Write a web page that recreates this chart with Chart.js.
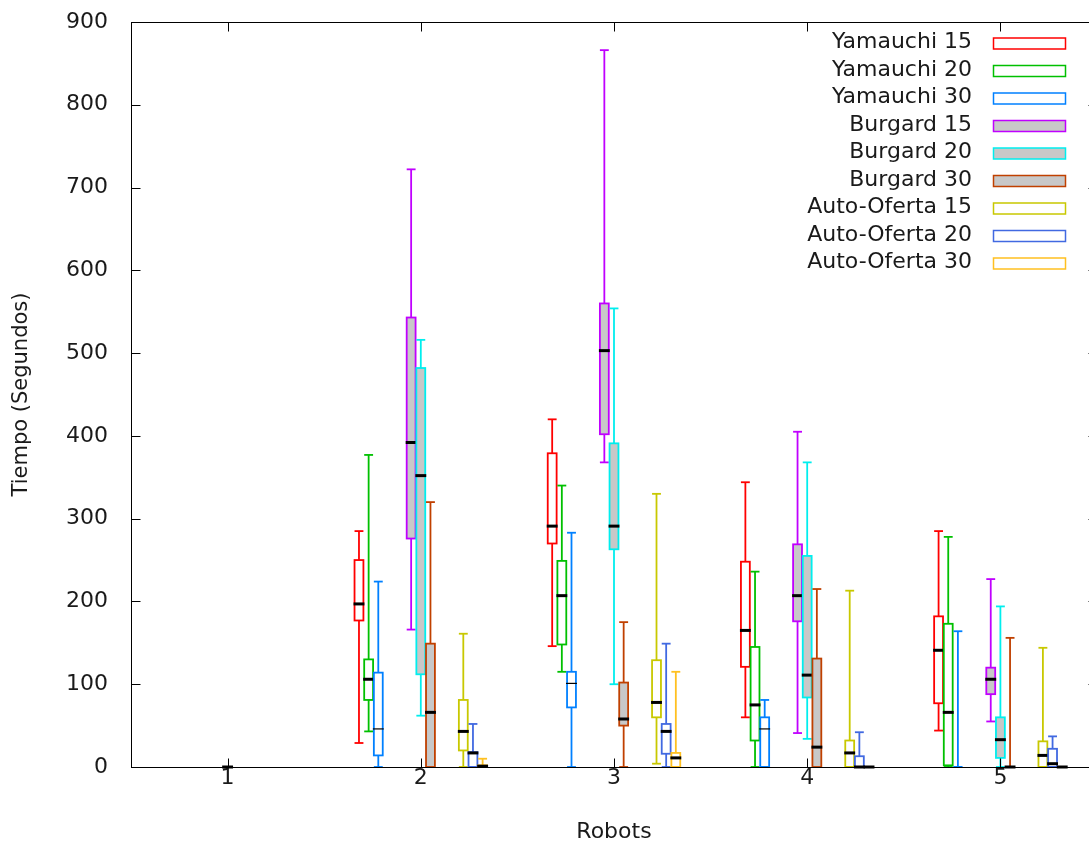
<!DOCTYPE html>
<html><head><meta charset="utf-8">
<script src="https://cdn.jsdelivr.net/npm/chart.js@4"></script>
<style>html,body{margin:0;padding:0;overflow:hidden;background:#fff}canvas{display:block}</style>
</head><body>
<canvas id="c" width="1110" height="848"></canvas>
<script>
// ---------- DATA ----------
const robots = [1, 2, 3, 4, 5];
const xTicks = [1, 2, 3, 4, 5];
const yTicks = [0, 100, 200, 300, 400, 500, 600, 700, 800, 900];
const seriesNames = ['Yamauchi 15','Yamauchi 20','Yamauchi 30','Burgard 15','Burgard 20','Burgard 30','Auto-Oferta 15','Auto-Oferta 20','Auto-Oferta 30'];
// each entry: [min, q1, median, q3, max] for robots = 1..5 (null = no data)
const yamauchi15 = [null, [29,177,197,250,285], [146,270,291,379,420], [60,121,165,248,344], [44,77,141,182,285]];
const yamauchi20 = [null, [43,81,106,130,377], [115,148,207,249,340], [0,32,75,145,236], [0,2,66,173,278]];
const yamauchi30 = [null, [0,14,46,114,224], [0,72,101,115,283], [0,0,46,60,81], [0,0,null,0,164]];
const burgard15  = [null, [166,276,392,543,722], [368,402,503,560,866], [41,176,207,269,405], [55,88,106,120,227]];
const burgard20  = [[0,0,0,0,0], [62,112,352,482,516], [100,263,291,391,554], [34,84,111,255,368], [0,11,33,60,194]];
const burgard30  = [null, [0,0,66,149,320], [0,50,58,102,175], [0,0,24,131,215], [0,0,0,0,156]];
const autoOferta15 = [null, [0,20,43,81,161], [4,60,78,129,330], [0,0,17,32,213], [0,0,14,31,144]];
const autoOferta20 = [null, [0,0,17,18,52], [0,16,43,52,149], [0,0,0,13,42], [0,0,4,22,37]];
const autoOferta30 = [null, [0,0,1,2,10], [0,0,11,17,115], [0,0,0,0,0], [0,0,0,0,0]];
const seriesStats = [yamauchi15, yamauchi20, yamauchi30, burgard15, burgard20, burgard30, autoOferta15, autoOferta20, autoOferta30];

// ---------- STYLE ----------
const seriesColors = ['#ff0000','#00c000','#0080ff','#c000ff','#00eeee','#c04000','#c8c800','#4169e1','#ffc020'];
const seriesFilled = [false,false,false,true,true,true,false,false,false];
const seriesOffsets = [-0.32,-0.27,-0.22,-0.05,0,0.05,0.22,0.27,0.32];
const seriesMedianWidth = [3,3,1.2,3,3,3,3,3,3];
const BOX_W = 0.046;
const FONT = 'DejaVu Sans';
const TEXT = '#1a1a1a';

const datasets = seriesNames.map((name, s) => ({
  label: name,
  borderColor: seriesColors[s],
  backgroundColor: seriesFilled[s] ? '#c8c8c8' : 'rgba(0,0,0,0)',
  filled: seriesFilled[s],
  offset: seriesOffsets[s],
  medianWidth: seriesMedianWidth[s],
  stats: seriesStats[s],
  data: robots.map((r, i) => seriesStats[s][i] ? {x: r + seriesOffsets[s], y: seriesStats[s][i][2] ?? 0} : null).filter(Boolean),
  pointRadius: 0,
  showLine: false
}));

function line(ctx, x1, y1, x2, y2) { ctx.beginPath(); ctx.moveTo(x1, y1); ctx.lineTo(x2, y2); ctx.stroke(); }

const boxPlugin = {
  id: 'boxes',
  afterDatasetsDraw(chart) {
    const {ctx, scales: {x, y}} = chart;
    chart.data.datasets.forEach(ds => {
      ds.stats.forEach((st, i) => {
        if (!st) return;
        const xv = robots[i] + ds.offset;
        const cx = x.getPixelForValue(xv);
        const hw = x.getPixelForValue(xv + BOX_W / 2) - cx;
        const [mn, q1, md, q3, mx] = st.map(v => v == null ? null : y.getPixelForValue(v));
        ctx.save();
        ctx.strokeStyle = ds.borderColor;
        ctx.lineWidth = 1.8;
        line(ctx, cx, q1, cx, mn);
        line(ctx, cx, q3, cx, mx);
        line(ctx, cx - hw, mn, cx + hw, mn);
        line(ctx, cx - hw, mx, cx + hw, mx);
        if (ds.filled) { ctx.fillStyle = ds.backgroundColor; ctx.fillRect(cx - hw, q3, 2 * hw, q1 - q3); }
        ctx.strokeRect(cx - hw, q3, 2 * hw, q1 - q3);
        if (md != null) {
          ctx.strokeStyle = '#000';
          ctx.lineWidth = ds.medianWidth;
          line(ctx, cx - hw - 1, md, cx + hw + 1, md);
        }
        ctx.restore();
      });
    });
  },
  afterDraw(chart) {
    const {ctx, chartArea: a, scales: {x, y}} = chart;
    ctx.save();
    ctx.strokeStyle = '#000';
    ctx.lineWidth = 1;
    const L = Math.round(a.left) + 0.5, R = Math.round(a.right) + 0.5, T = Math.round(a.top) + 0.5, B = Math.round(a.bottom) + 0.5;
    ctx.strokeRect(L, T, R - L, B - T);
    const tl = 9;
    yTicks.forEach(v => {
      const py = Math.round(y.getPixelForValue(v)) + 0.5;
      line(ctx, L, py, L + tl, py);
      line(ctx, R, py, R - tl, py);
    });
    xTicks.forEach(v => {
      const px = Math.round(x.getPixelForValue(v)) + 0.5;
      line(ctx, px, B, px, B - tl);
      line(ctx, px, T, px, T + tl);
    });
    // legend (gnuplot style key)
    ctx.font = '22px "' + FONT + '"';
    ctx.textAlign = 'right';
    ctx.textBaseline = 'middle';
    chart.data.datasets.forEach((ds, i) => {
      const ry = 42.5 + i * 27.5;
      ctx.fillStyle = TEXT;
      ctx.fillText(ds.label, 972, ry);
      if (ds.filled) { ctx.fillStyle = ds.backgroundColor; ctx.fillRect(993.5, ry - 4.5, 72, 11); }
      ctx.strokeStyle = ds.borderColor;
      ctx.lineWidth = 1.5;
      ctx.strokeRect(993.5, ry - 4.5, 72, 11);
    });
    ctx.restore();
  }
};

new Chart(document.getElementById('c'), {
  type: 'scatter',
  data: { datasets },
  plugins: [boxPlugin],
  options: {
    responsive: false,
    animation: false,
    layout: { padding: { top: 22, right: 13, left: 0, bottom: 0 } },
    plugins: { legend: { display: false }, tooltip: { enabled: false } },
    scales: {
      x: {
        type: 'linear', min: 0.5, max: 5.5,
        grid: { display: false, drawTicks: false, tickLength: 0 },
        border: { display: false },
        afterBuildTicks: s => { s.ticks = xTicks.map(v => ({ value: v })); },
        afterFit: s => { s.height = 81; s.paddingLeft = 0; s.paddingRight = 0; },
        ticks: { color: TEXT, padding: 0, font: { family: FONT, size: 22, lineHeight: 1.0 }, maxRotation: 0, callback: v => String(v) },
        title: { display: true, text: 'Robots', color: TEXT, font: { family: FONT, size: 22 }, padding: { top: 0, bottom: 3 } }
      },
      y: {
        type: 'linear', min: 0, max: 900,
        grid: { display: false, drawTicks: false, tickLength: 0 },
        border: { display: false },
        afterBuildTicks: s => { s.ticks = yTicks.map(v => ({ value: v })); },
        afterFit: s => { s.width = 131; s.paddingTop = 0; s.paddingBottom = 0; },
        ticks: { color: TEXT, padding: 23, font: { family: FONT, size: 22 }, callback: v => String(v) },
        title: { display: true, text: 'Tiempo (Segundos)', color: TEXT, font: { family: FONT, size: 21 }, padding: { top: 9, bottom: 0 } }
      }
    }
  }
});
</script>
</body></html>
